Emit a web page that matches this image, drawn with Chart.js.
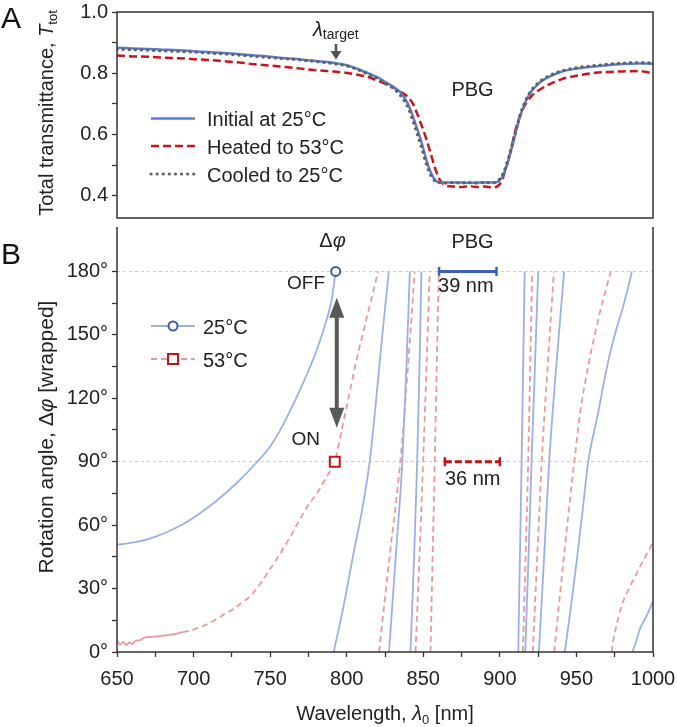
<!DOCTYPE html>
<html>
<head>
<meta charset="utf-8">
<script src="https://cdn.jsdelivr.net/npm/chart.js@4.4.0/dist/chart.umd.min.js"></script>
<style>
  html, body { margin: 0; padding: 0; background: #fff; }
  #wrap { position: relative; width: 677px; height: 727px; }
  #boxA { position: absolute; left: 0; top: 0; width: 677px; height: 219px; }
  #boxB { position: absolute; left: 0; top: 218px; width: 677px; height: 509px; }
</style>
</head>
<body>
<div id="wrap">
  <div id="boxA"><canvas id="chartA"></canvas></div>
  <div id="boxB"><canvas id="chartB"></canvas></div>
</div>
<script>
// Panel A - total transmittance
const lambdaA = [650,660,670,680,690,700,710,720,730,740,750,760,770,780,790,800,
  805,810,815,820,825,830,835,840,843,846,849,852,855,858,861,
  865,870,875,880,885,890,895,898,901,904,907,910,913,916,
  920,925,930,935,940,945,950,960,970,980,990,1000];
const initialT = [.883,.881,.879,.877,.875,.872,.869,.866,.862,.858,.854,.849,.845,.840,.835,.826,
  .818,.808,.798,.787,.772,.757,.738,.700,.662,.618,.572,.517,.475,.450,.443,
  .443,.443,.443,.442,.443,.443,.443,.444,.457,.490,.540,.598,.655,.698,
  .737,.765,.783,.795,.805,.811,.815,.821,.826,.830,.832,.831];
const heatedT = [.858,.855,.854,.851,.849,.846,.843,.839,.835,.829,.825,.820,.815,.810,.806,.801,
  .797,.792,.786,.776,.766,.754,.740,.722,.702,.668,.628,.585,.535,.485,.450,
  .432,.430,.428,.431,.428,.430,.427,.429,.446,.490,.545,.610,.658,.692,
  .722,.743,.758,.770,.780,.787,.792,.800,.804,.806,.807,.800];
const cooledT = [.878,.877,.875,.873,.871,.869,.866,.863,.859,.855,.851,.847,.843,.838,.832,.824,
  .816,.806,.795,.783,.768,.752,.728,.688,.648,.602,.555,.503,.465,.446,.442,
  .441,.443,.441,.443,.441,.443,.442,.446,.462,.497,.548,.605,.660,.702,
  .740,.768,.786,.798,.807,.813,.818,.824,.829,.833,.835,.833];
const ticksA = [0.4, 0.5, 0.6, 0.7, 0.8, 0.9, 1.0];

// Panel B - wrapped rotation angle (null = wrap break)
const lam25 = [650,660,671,682,693,704,715,728,741,750,757,765,772,780,786,790,792.8, null,
  791.5,798,804,810.3,815,818.5,821.6,824.5,827.5, null,
  827.6,832,836.3,839,841.2, null,
  841.6,844,846,847.5,848.8, null,
  912,913.1,914.2,915.2,916.2, null,
  916.6,918.7,920.7,922.9,925, null,
  925.5,928.9,932.2,936.8,942, null,
  942.4,946.5,950.5,954.2,957.7,964,970.8,977,980,982.4,984,986.2, null,
  986.6,987.5,988.2,991.5,994.8,1000];
const phase25 = [50.7,51.7,53.5,56.5,60.4,65.5,71.5,79.8,89.5,97.2,105.5,117,128,142,155,166,180, null,
  0,21.8,45,68.2,90,114,137.7,159,180, null,
  0,45,90,135,180, null,
  0,45,90,135,180, null,
  0,45,90,135,180, null,
  0,45,90,135,180, null,
  0,45,90,135,180, null,
  0,22,45,68,90,112.5,137.7,155,162,168.6,173,180, null,
  0,2,3.2,11,15.6,24];
const lam53 = [650,652,654,656,658,660,662,665,668,671,676,682,688,693,698,704,710,715,720,726,
  731,737,742,747.5,753,758.4,764,769.3,775,781,787,792.2,797,802,806.3,811,816,820.5, null,
  821.1,828,835,840,844.4, null,
  844.9,847.5,849.9,852.1,854.2, null,
  854.7,856.1,857.5,858.8,860.1, null,
  915,916.8,918.5,919.8,921.1, null,
  921.5,924.4,927.3,931.2,935.3, null,
  935.5,941.8,948.6,952.7,958.4,965.4,969.7,972.5, null,
  973,973.9,976,979.5,984,989.3,994.5,1000];
const phase53 = [5.6,3.5,4.8,3.2,4.5,3.8,5.2,5.6,6.8,7.1,7.4,7.9,8.6,9.4,10.2,11.7,13.6,15.6,17.8,20.3,
  23,26.4,30.8,36.5,42.5,48.8,55.5,62.7,69.5,75.5,83,90,106,123,137.7,152,166.5,180, null,
  0,45,90,135,180, null,
  0,45,90,135,180, null,
  0,45,90,135,180, null,
  0,45,90,135,180, null,
  0,45,90,135,180, null,
  0,45,90,114.5,137.7,160.9,172.5,180, null,
  0,4.8,12,21.8,29.5,37.2,44.5,51.7];
const offState = { x: 792.8, y: 180 };
const onState = { x: 792.2, y: 90 };
const gap25 = [860.3, 897.8];   // 39 nm bar at 180°
const gap53 = [864.1, 900.0];   // 36 nm bar at 90°
const ticksB = [0,15,30,45,60,75,90,105,120,135,150,165,180];
const ticksX = [650,675,700,725,750,775,800,825,850,875,900,925,950,975,1000];

const FAMILY = "'Liberation Sans', Arial, Helvetica, sans-serif";
const font = (size, style) => (style ? style + ' ' : '') + size + 'px ' + FAMILY;

Chart.defaults.font.family = FAMILY;
Chart.defaults.font.size = 20;
Chart.defaults.color = '#222';

const zip = (xs, ys) => xs.map((x, i) => ({ x: x === null ? xs[i - 1] : x, y: ys[i] }));

// mixed-style text (italic symbols, subscripts)
function richText(ctx, parts, x, y, align) {
    let w = 0;
    parts.forEach(p => { ctx.font = p.font; p.w = ctx.measureText(p.t).width; w += p.w; });
    let cx = align === 'center' ? x - w / 2 : (align === 'right' ? x - w : x);
    ctx.textAlign = 'left';
    ctx.textBaseline = 'alphabetic';
    parts.forEach(p => { ctx.font = p.font; ctx.fillText(p.t, cx, y + (p.dy || 0)); cx += p.w; });
}

function arrowHead(ctx, x, tipY, dir, len, half) {
    ctx.beginPath();
    ctx.moveTo(x, tipY);
    ctx.lineTo(x - half, tipY - dir * len);
    ctx.lineTo(x + half, tipY - dir * len);
    ctx.closePath();
    ctx.fill();
}

const panelA = {
    id: 'panelA',
    afterDraw(chart) {
        const { ctx, chartArea: a, scales: { x } } = chart;
        ctx.save();
        ctx.strokeStyle = '#333';
        ctx.lineWidth = 1.5;
        ctx.strokeRect(a.left, a.top, a.right - a.left, a.bottom - a.top);

        // legend
        [[1, 118.5], [2, 146], [0, 174]].forEach(([i, yy]) => {
            const ds = chart.data.datasets[i];
            ctx.strokeStyle = ds.borderColor;
            ctx.lineWidth = ds.borderWidth;
            ctx.lineCap = ds.borderCapStyle || 'butt';
            ctx.setLineDash(ds.borderDash || []);
            ctx.beginPath(); ctx.moveTo(151, yy); ctx.lineTo(195, yy); ctx.stroke();
            ctx.setLineDash([]);
            ctx.lineCap = 'butt';
            ctx.fillStyle = '#222';
            richText(ctx, [{ t: ds.label, font: font(20) }], 207, yy + 7.5, 'left');
        });

        ctx.fillStyle = '#222';
        richText(ctx, [{ t: 'PBG', font: font(20) }], 472.5, 96, 'center');

        // lambda target marker
        const tx = x.getPixelForValue(793);
        richText(ctx, [{ t: 'λ', font: font(20, 'italic') }, { t: 'target', font: font(14), dy: 2.5 }], tx - 23, 36, 'left');
        ctx.fillStyle = '#555';
        ctx.fillRect(tx - 1.3, 44, 2.6, 9);
        arrowHead(ctx, tx, 59.5, 1, 8.5, 5.5);

        // panel letter and axis title
        ctx.fillStyle = '#111';
        richText(ctx, [{ t: 'A', font: font(30) }], 1, 28, 'left');
        ctx.fillStyle = '#222';
        ctx.translate(53, 113);
        ctx.rotate(-Math.PI / 2);
        richText(ctx, [
            { t: 'Total transmittance, ', font: font(20) },
            { t: 'T', font: font(20, 'italic') },
            { t: 'tot', font: font(13), dy: 4 }
        ], 0, 0, 'center');
        ctx.restore();
    }
};

const panelB = {
    id: 'panelB',
    afterDraw(chart) {
        const { ctx, chartArea: a, scales: { x, y } } = chart;
        ctx.save();
        ctx.strokeStyle = '#333';
        ctx.lineWidth = 1.5;
        ctx.beginPath();
        ctx.moveTo(a.left, a.top); ctx.lineTo(a.left, a.bottom);
        ctx.lineTo(a.right, a.bottom); ctx.lineTo(a.right, a.top);
        ctx.stroke();

        // legend with line + marker
        [[4, 0, 108], [5, 1, 141]].forEach(([li, mi, yy]) => {
            const ds = chart.data.datasets[li], mk = chart.data.datasets[mi];
            ctx.strokeStyle = ds.borderColor;
            ctx.lineWidth = ds.borderWidth;
            ctx.setLineDash(ds.borderDash || []);
            ctx.beginPath(); ctx.moveTo(151, yy); ctx.lineTo(195, yy); ctx.stroke();
            ctx.setLineDash([]);
            ctx.fillStyle = '#fff';
            ctx.strokeStyle = mk.borderColor;
            ctx.lineWidth = mk.pointBorderWidth;
            ctx.beginPath();
            if (mk.pointStyle === 'rect') ctx.rect(173 - 5, yy - 5, 10, 10);
            else ctx.arc(173, yy, mk.pointRadius, 0, Math.PI * 2);
            ctx.fill(); ctx.stroke();
            ctx.fillStyle = '#222';
            richText(ctx, [{ t: ds.label, font: font(20) }], 203, yy + 7.5, 'left');
        });

        ctx.fillStyle = '#222';
        richText(ctx, [{ t: 'Δ', font: font(20) }, { t: 'φ', font: font(20, 'italic') }], 332.5, 29, 'center');
        richText(ctx, [{ t: 'OFF', font: font(19) }], 325, 71, 'right');
        richText(ctx, [{ t: 'ON', font: font(19) }], 320, 227, 'right');
        richText(ctx, [{ t: 'PBG', font: font(20) }], 472.5, 30, 'center');
        richText(ctx, [{ t: '39 nm', font: font(20) }], x.getPixelForValue(gap25[0]) - 1, 74, 'left');
        richText(ctx, [{ t: '36 nm', font: font(20) }], x.getPixelForValue(gap53[0]), 267, 'left');

        // OFF <-> ON double arrow
        const ax = x.getPixelForValue(793.5);
        const yTop = y.getPixelForValue(167.5), yBot = y.getPixelForValue(106);
        ctx.fillStyle = '#595959';
        ctx.fillRect(ax - 2, yTop + 15, 4, yBot - yTop - 30);
        arrowHead(ctx, ax, yTop, -1, 20, 7.5);
        arrowHead(ctx, ax, yBot, 1, 20, 7.5);

        // panel letter and axis titles
        ctx.fillStyle = '#111';
        richText(ctx, [{ t: 'B', font: font(30) }], 1, 45.5, 'left');
        ctx.fillStyle = '#222';
        richText(ctx, [
            { t: 'Wavelength, ', font: font(20) },
            { t: 'λ', font: font(20, 'italic') },
            { t: '0', font: font(13), dy: 4 },
            { t: ' [nm]', font: font(20) }
        ], (a.left + a.right) / 2, 502, 'center');
        ctx.translate(53, 219);
        ctx.rotate(-Math.PI / 2);
        richText(ctx, [
            { t: 'Rotation angle, Δ', font: font(21) },
            { t: 'φ', font: font(21, 'italic') },
            { t: ' [wrapped]', font: font(21) }
        ], 0, 0, 'center');
        ctx.restore();
    }
};

const chartA = new Chart(document.getElementById('chartA'), {
    type: 'line',
    data: {
        datasets: [{
            label: 'Cooled to 25°C',
            data: zip(lambdaA, cooledT),
            borderColor: '#616161',
            borderWidth: 3.2,
            borderDash: [0.1, 6],
            borderCapStyle: 'round'
        }, {
            label: 'Initial at 25°C',
            data: zip(lambdaA, initialT),
            borderColor: '#5a7ecb',
            borderWidth: 2.5
        }, {
            label: 'Heated to 53°C',
            data: zip(lambdaA, heatedT),
            borderColor: '#c8141c',
            borderWidth: 2.5,
            borderDash: [8, 4]
        }]
    },
    options: {
        responsive: true,
        maintainAspectRatio: false,
        animation: false,
        events: [],
        elements: {
            point: { radius: 0 },
            line: { cubicInterpolationMode: 'monotone', fill: false }
        },
        layout: { padding: { top: 12, right: 24, bottom: 1, left: 0 } },
        plugins: { legend: { display: false }, tooltip: { enabled: false } },
        scales: {
            x: { type: 'linear', min: 650, max: 1000, display: false },
            y: {
                min: 0.327,
                max: 1.0,
                afterBuildTicks: s => { s.ticks = ticksA.map(v => ({ value: v })); },
                afterFit: s => { s.width = 117; s.paddingTop = 0; s.paddingBottom = 0; },
                ticks: {
                    callback: (v, i) => i % 2 === 0 ? v.toFixed(1) : '',
                    padding: 4,
                    autoSkip: false
                },
                grid: { drawOnChartArea: false, tickLength: 5, tickColor: '#333', tickWidth: 1.3 },
                border: { display: false }
            }
        }
    },
    plugins: [panelA]
});

const chartB = new Chart(document.getElementById('chartB'), {
    type: 'line',
    data: {
        datasets: [{
            label: 'OFF',
            data: [offState],
            borderColor: '#3a5cb4',
            backgroundColor: '#fff',
            pointStyle: 'circle',
            pointRadius: 4.5,
            pointBorderWidth: 2,
            showLine: false
        }, {
            label: 'ON',
            data: [onState],
            borderColor: '#c0141c',
            backgroundColor: '#fff',
            pointStyle: 'rect',
            pointRadius: 7,
            pointBorderWidth: 2,
            showLine: false
        }, {
            label: 'PBG 25',
            data: gap25.map(v => ({ x: v, y: 180 })),
            borderColor: '#3d5fb5',
            borderWidth: 3,
            pointStyle: 'line',
            pointRotation: 90,
            pointRadius: 4.5,
            pointBorderWidth: 2.5
        }, {
            label: 'PBG 53',
            data: gap53.map(v => ({ x: v, y: 90 })),
            borderColor: '#c0141c',
            borderWidth: 3,
            borderDash: [7, 3],
            pointStyle: 'line',
            pointRotation: 90,
            pointRadius: 4.5,
            pointBorderWidth: 2.5
        }, {
            label: '25°C',
            data: zip(lam25, phase25),
            borderColor: '#9db0e6',
            borderWidth: 1.8,
            pointRadius: 0,
            cubicInterpolationMode: 'monotone'
        }, {
            label: '53°C',
            data: zip(lam53, phase53),
            borderColor: '#eb9a9a',
            borderWidth: 1.8,
            borderDash: [6, 4],
            pointRadius: 0,
            cubicInterpolationMode: 'monotone',
            // noisy start of the heated curve reads as a continuous line
            segment: { borderDash: c => c.p0.parsed.x < 692 ? [] : undefined }
        }]
    },
    options: {
        responsive: true,
        maintainAspectRatio: false,
        animation: false,
        events: [],
        elements: { line: { tension: 0, fill: false } },
        layout: { padding: { top: 0, right: 24, bottom: 0, left: 0 } },
        plugins: { legend: { display: false }, tooltip: { enabled: false } },
        scales: {
            x: {
                type: 'linear',
                min: 650,
                max: 1000,
                afterBuildTicks: s => { s.ticks = ticksX.map(v => ({ value: v })); },
                afterFit: s => { s.height = 75; s.paddingLeft = 0; s.paddingRight = 0; },
                ticks: {
                    callback: (v, i) => i % 2 === 0 ? String(v) : '',
                    padding: 10,
                    autoSkip: false,
                    maxRotation: 0,
                    minRotation: 0
                },
                grid: { drawOnChartArea: false, tickLength: 5, tickColor: '#333', tickWidth: 1.3 },
                border: { display: false }
            },
            y: {
                min: 0,
                max: 201,
                afterBuildTicks: s => { s.ticks = ticksB.map(v => ({ value: v })); },
                afterFit: s => { s.width = 117; s.paddingTop = 0; s.paddingBottom = 0; },
                ticks: {
                    callback: (v, i) => i % 2 === 0 ? v + '°' : '',
                    padding: 4,
                    autoSkip: false
                },
                grid: {
                    color: c => (c.tick && (c.tick.value === 90 || c.tick.value === 180)) ? '#cfcfcf' : 'rgba(0,0,0,0)',
                    lineWidth: 1,
                    tickLength: 5,
                    tickColor: '#333',
                    tickWidth: 1.3
                },
                border: { display: false, dash: [3, 3] }
            }
        }
    },
    plugins: [panelB]
});
</script>
</body>
</html>
